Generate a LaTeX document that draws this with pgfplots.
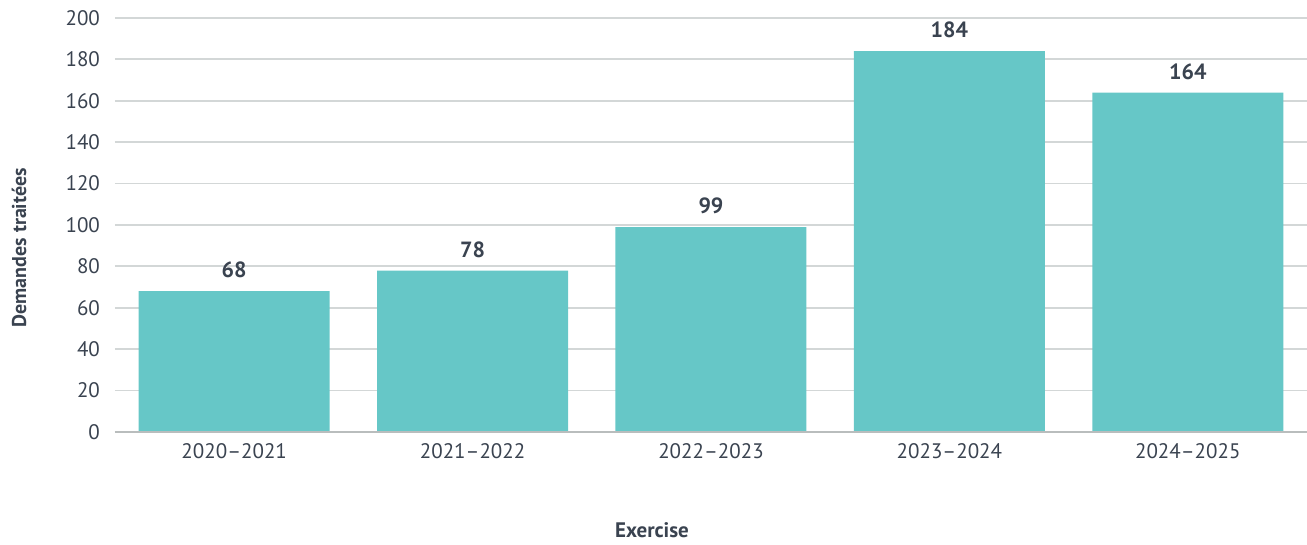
\documentclass[border=0pt]{standalone}
\usepackage{pgfplots}
\pgfplotsset{compat=1.18}
\usepackage{fontspec}
\setmainfont{PT Sans}
\definecolor{barteal}{HTML}{66C7C7}
\definecolor{txtdark}{HTML}{3A4350}
\definecolor{gridgray}{HTML}{D3D7D7}
\definecolor{basegray}{HTML}{B9BDBD}
\begin{document}
\begin{tikzpicture}
\path[use as bounding box] (0,0) rectangle (653.5pt,272.5pt);
\begin{axis}[
  at={(57.5pt,56.5pt)}, anchor=south west,
  scale only axis,
  width=596pt, height=207pt,
  ybar, bar width=95.5pt,
  xmin=-0.5, xmax=4.5,
  ymin=0, ymax=200,
  ytick={0,20,...,200},
  xtick=data,
  xticklabels={2020--2021,2021--2022,2022--2023,2023--2024,2024--2025},
  major tick length=0pt,
  axis line style={draw=none},
  ymajorgrids, grid style={gridgray, line width=0.9pt},
  tick label style={font=\fontsize{10.5}{12}\selectfont, text=txtdark},
  /pgf/number format/assume math mode=true,
  yticklabel style={xshift=-4pt},
  xticklabel style={yshift=-2pt},
  nodes near coords,
  every node near coord/.append style={font=\bfseries\fontsize{11}{13}\selectfont, text=txtdark, yshift=3pt},
  xlabel={Exercise},
  xlabel style={font=\bfseries\fontsize{10.5}{12}\selectfont, text=txtdark, at={(axis description cs:0.4505,-0.238)}, anchor=center},
  ylabel={Demandes traitées},
  ylabel style={font=\bfseries\fontsize{10}{12}\selectfont, text=txtdark, at={(axis description cs:-0.0805,0.445)}, anchor=center, rotate=0},
  clip=false,
]
\addplot[fill=barteal, draw=none] coordinates {(0,68) (1,78) (2,99) (3,184) (4,164)};
\draw[basegray, line width=1pt] (axis cs:-0.5,0) -- (axis cs:4.5,0);
\end{axis}
\end{tikzpicture}
\end{document}
